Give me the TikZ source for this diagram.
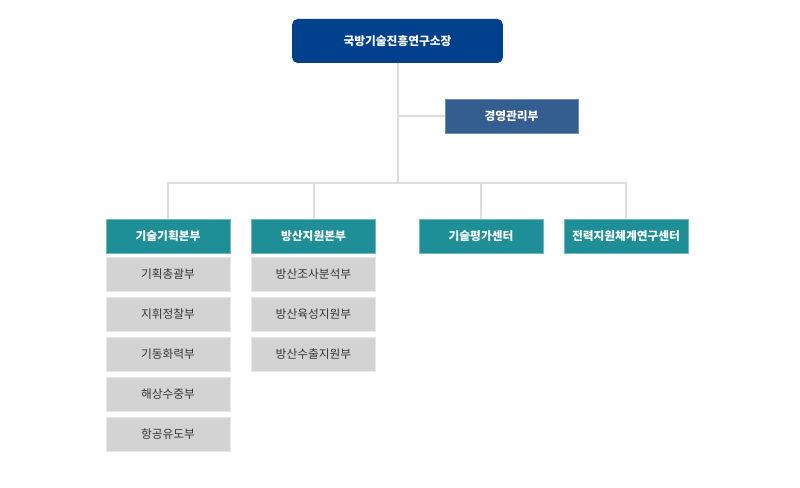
\documentclass[tikz,border=0pt]{standalone}
\usepackage{fontspec}
\usepackage{tikz}
\setmainfont{Noto Sans CJK KR}
\definecolor{chiefblue}{RGB}{0,64,140}
\definecolor{mgmtblue}{RGB}{52,94,143}
\definecolor{deptteal}{RGB}{30,143,150}
\definecolor{deptedge}{RGB}{110,185,190}
\definecolor{teamgray}{RGB}{211,211,211}
\definecolor{teamedge}{RGB}{232,232,232}
\definecolor{linkgray}{RGB}{221,221,221}
\definecolor{teamtext}{RGB}{55,55,55}

\begin{document}
\begin{tikzpicture}[x=0.75pt,y=0.75pt,yscale=-1,xscale=1,
        chief/.style={fill=chiefblue,rounded corners=4pt,text=white,font=\bfseries\fontsize{8.8}{10}\selectfont,minimum width=158pt,minimum height=33pt,inner sep=0pt},
        mgmt/.style={fill=mgmtblue,draw=mgmtblue!70!white,line width=0.6pt,text=white,font=\bfseries\fontsize{8.8}{10}\selectfont,minimum width=99.75pt,minimum height=25.5pt,inner sep=0pt},
        dept/.style={fill=deptteal,draw=deptedge,line width=0.6pt,text=white,font=\bfseries\fontsize{8.8}{10}\selectfont,minimum width=93pt,minimum height=25.5pt,inner sep=0pt},
        team/.style={fill=teamgray,draw=teamedge,line width=0.6pt,text=teamtext,font=\fontsize{8.8}{10}\selectfont,minimum width=93pt,minimum height=25.5pt,inner sep=0pt},
        link/.style={draw=linkgray,line width=1.5pt}]
                \useasboundingbox (0,0) rectangle (800,488);
                %Top
                \node [chief] (chief) at (397.5,41) {국방기술진흥연구소장};
                \node [mgmt] (mgmt) at (511.5,116) {경영관리부};
                %Departments
                \node [dept] (plan) at (168,236) {기술기획본부};
                \node [dept] (supp) at (313.5,236) {방산지원본부};
                \node [dept] (eval) at (481,236) {기술평가센터};
                \node [dept] (resc) at (626,236) {전력지원체계연구센터};
                \coordinate (bus) at (397.5,183);
                %Teams
                \node [team] (plana) at (168,274) {기획총괄부};
                \node [team] (planb) at (168,314) {지휘정찰부};
                \node [team] (planc) at (168,354) {기동화력부};
                \node [team] (pland) at (168,394) {해상수중부};
                \node [team] (plane) at (168,434) {항공유도부};
                \node [team] (suppa) at (313.5,274) {방산조사분석부};
                \node [team] (suppb) at (313.5,314) {방산육성지원부};
                \node [team] (suppc) at (313.5,354) {방산수출지원부};
                %Lines
                \draw [link] (chief.south) -- (bus);
                \draw [link] (mgmt.west) -- (mgmt.west -| chief.south);
                \draw [link] (plan.north) |- (bus) -| (resc.north);
                \draw [link] (supp.north) -- (supp.north |- bus);
                \draw [link] (eval.north) -- (eval.north |- bus);
        \end{tikzpicture}
\end{document}
